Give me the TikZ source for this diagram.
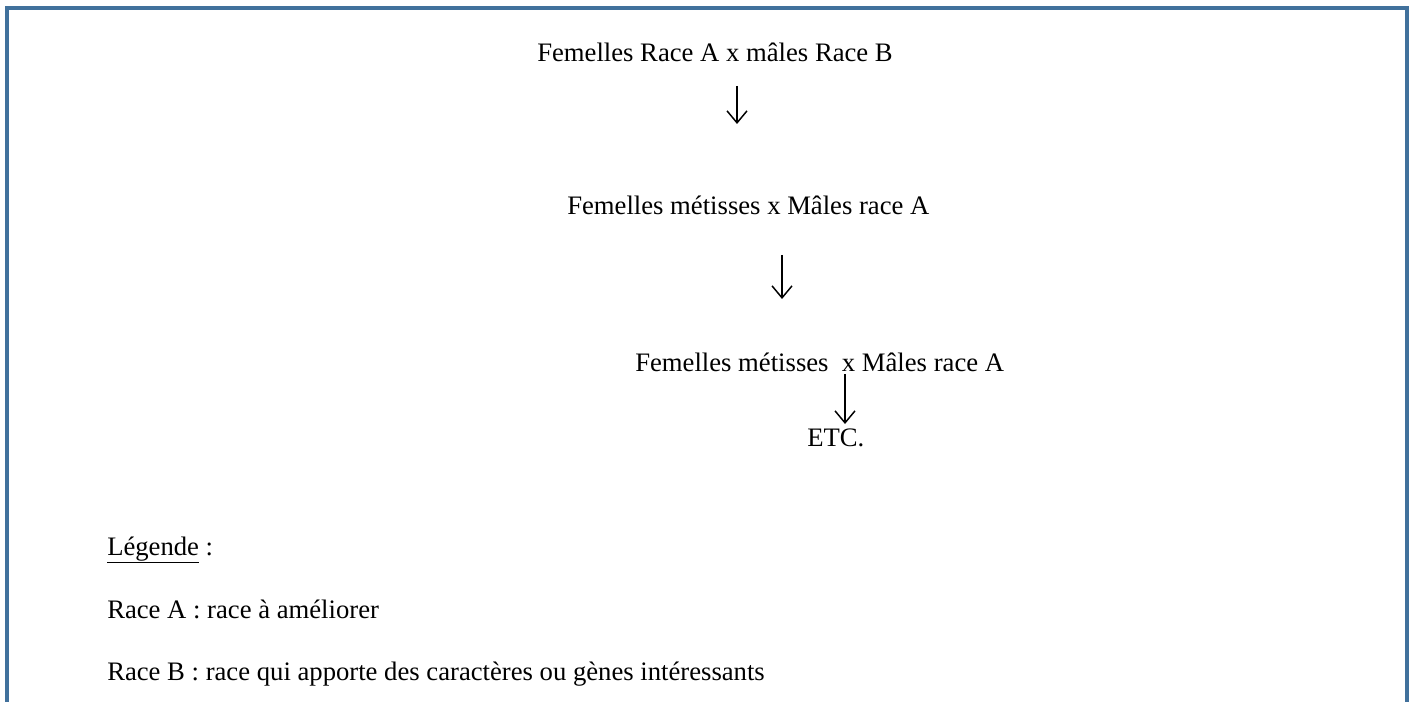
\documentclass[tikz,border=0pt]{standalone}
\usepackage{fontspec}
\setmainfont{Liberation Serif}
\usetikzlibrary{arrows.meta,positioning}

\begin{document}
\begin{tikzpicture}[x=0.75pt, y=-0.75pt, every node/.style={inner sep=0pt, font=\fontsize{20}{24}\selectfont},
  txt/.style={anchor=base west},
  arrow/.style={-{Straight Barb[length=9pt, width=15pt]}, line width=1.1pt},
  frame/.style={draw={rgb,255:red,65;green,113;blue,156}, line width=2.3pt}]
\useasboundingbox (0,0) rectangle (1413,702);
\draw[frame] (7,702) -- (7,8) -- (1407,8) -- (1407,702);
% schema de croisement
\node[txt] (cross1) at (537,62) {Femelles Race A x mâles Race B};
\node[txt] (cross2) at (567,215) {Femelles métisses x Mâles race A};
\node[txt] (cross3) at (635,371) {Femelles métisses \ x Mâles race A};
\node[txt] (etc) at (807,446) {ETC.};
\coordinate (a1s) at (737,86); \coordinate (a1e) at (737,124);
\coordinate (a2s) at (782,255); \coordinate (a2e) at (782,299);
\coordinate (a3s) at (845,374); \coordinate (a3e) at (845,424);
\draw[arrow] (a1s) -- (a1e); \draw[arrow] (a2s) -- (a2e); \draw[arrow] (a3s) -- (a3e);
% legende
\node[txt] (legend) at (107,555) {\underline{Légende} :};
\node[txt] (raceA) at (107,618) {Race A : race à améliorer};
\node[txt] (raceB) at (107,680) {Race B : race qui apporte des caractères ou gènes intéressants};
\end{tikzpicture}
\end{document}
